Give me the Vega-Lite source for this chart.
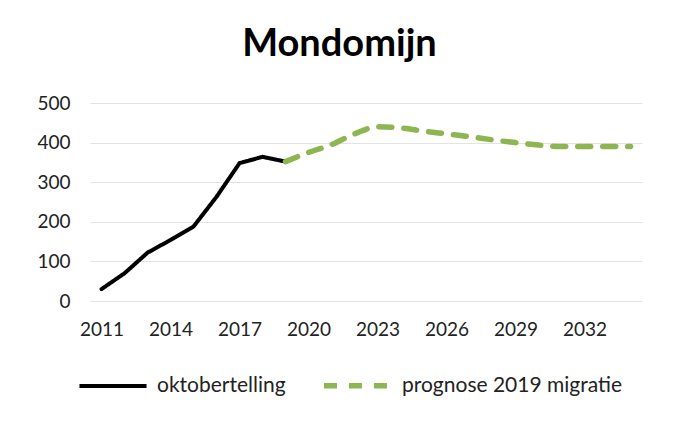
{
  "$schema": "https://vega.github.io/schema/vega-lite/v6.json",
  "width": 552,
  "height": 198,
  "autosize": {"type": "none"},
  "padding": {"left": 90, "top": 103, "right": 45, "bottom": 129},
  "background": "white",
  "config": {
    "view": {"stroke": null},
    "font": "Lato",
    "axis": {"labelFont": "Lato", "labelFontSize": 19, "labelColor": "#222222"},
    "legend": {"labelFont": "Lato", "labelFontSize": 21, "labelColor": "#222222", "labelLimit": 400}
  },
  "title": {
    "text": "Mondomijn",
    "fontSize": 38,
    "fontWeight": "bold",
    "font": "Lato",
    "color": "#000000",
    "anchor": "middle",
    "frame": "bounds",
    "offset": 30
  },
  "data": {
    "values": [
      {"jaar": 2011, "waarde": 30, "reeks": "oktobertelling"},
      {"jaar": 2012, "waarde": 70, "reeks": "oktobertelling"},
      {"jaar": 2013, "waarde": 122, "reeks": "oktobertelling"},
      {"jaar": 2014, "waarde": 154, "reeks": "oktobertelling"},
      {"jaar": 2015, "waarde": 188, "reeks": "oktobertelling"},
      {"jaar": 2016, "waarde": 263, "reeks": "oktobertelling"},
      {"jaar": 2017, "waarde": 348, "reeks": "oktobertelling"},
      {"jaar": 2018, "waarde": 364, "reeks": "oktobertelling"},
      {"jaar": 2019, "waarde": 352, "reeks": "oktobertelling"},
      {"jaar": 2019, "waarde": 352, "reeks": "prognose 2019 migratie"},
      {"jaar": 2020, "waarde": 375, "reeks": "prognose 2019 migratie"},
      {"jaar": 2021, "waarde": 395, "reeks": "prognose 2019 migratie"},
      {"jaar": 2022, "waarde": 422, "reeks": "prognose 2019 migratie"},
      {"jaar": 2023, "waarde": 440, "reeks": "prognose 2019 migratie"},
      {"jaar": 2024, "waarde": 437, "reeks": "prognose 2019 migratie"},
      {"jaar": 2025, "waarde": 429, "reeks": "prognose 2019 migratie"},
      {"jaar": 2026, "waarde": 422, "reeks": "prognose 2019 migratie"},
      {"jaar": 2027, "waarde": 415, "reeks": "prognose 2019 migratie"},
      {"jaar": 2028, "waarde": 407, "reeks": "prognose 2019 migratie"},
      {"jaar": 2029, "waarde": 400, "reeks": "prognose 2019 migratie"},
      {"jaar": 2030, "waarde": 394, "reeks": "prognose 2019 migratie"},
      {"jaar": 2031, "waarde": 390, "reeks": "prognose 2019 migratie"},
      {"jaar": 2032, "waarde": 390, "reeks": "prognose 2019 migratie"},
      {"jaar": 2033, "waarde": 390, "reeks": "prognose 2019 migratie"},
      {"jaar": 2034, "waarde": 390, "reeks": "prognose 2019 migratie"}
    ]
  },
  "encoding": {
    "x": {
      "field": "jaar",
      "type": "quantitative",
      "scale": {"domain": [2010.5, 2034.5], "nice": false, "zero": false},
      "axis": {
        "title": null,
        "values": [2011, 2014, 2017, 2020, 2023, 2026, 2029, 2032],
        "format": "d",
        "grid": false,
        "ticks": false,
        "domain": false,
        "labelPadding": 19
      }
    },
    "y": {
      "field": "waarde",
      "type": "quantitative",
      "scale": {"domain": [0, 500], "nice": false},
      "axis": {
        "title": null,
        "values": [0, 100, 200, 300, 400, 500],
        "grid": true,
        "gridColor": "#e3e3e3",
        "gridWidth": 1,
        "ticks": false,
        "domain": false,
        "labelPadding": 20
      }
    },
    "color": {
      "field": "reeks",
      "type": "nominal",
      "scale": {"domain": ["oktobertelling", "prognose 2019 migratie"], "range": ["#000000", "#8db650"]},
      "legend": {
        "title": null,
        "orient": "none",
        "legendX": -13,
        "legendY": 246,
        "direction": "horizontal",
        "symbolType": "stroke",
        "symbolSize": 4500,
        "symbolStrokeWidth": 5,
        "columnPadding": 26,
        "labelOffset": 8
      }
    },
    "strokeDash": {
      "field": "reeks",
      "type": "nominal",
      "scale": {"domain": ["oktobertelling", "prognose 2019 migratie"], "range": [[1, 0], [13, 12]]},
      "legend": {
        "title": null,
        "orient": "none",
        "legendX": -13,
        "legendY": 246,
        "direction": "horizontal",
        "symbolType": "stroke",
        "symbolSize": 4500,
        "symbolStrokeWidth": 5,
        "columnPadding": 26,
        "labelOffset": 8
      }
    },
    "strokeWidth": {
      "field": "reeks",
      "type": "nominal",
      "scale": {"domain": ["oktobertelling", "prognose 2019 migratie"], "range": [4, 5.5]},
      "legend": null
    }
  },
  "layer": [
    {
      "transform": [{"filter": "datum.reeks === 'oktobertelling'"}],
      "mark": {"type": "line", "interpolate": "linear", "strokeCap": "round", "strokeJoin": "round"}
    },
    {
      "transform": [{"filter": "datum.reeks === 'prognose 2019 migratie'"}],
      "mark": {"type": "line", "interpolate": "monotone", "strokeCap": "round", "strokeJoin": "round"}
    }
  ]
}
